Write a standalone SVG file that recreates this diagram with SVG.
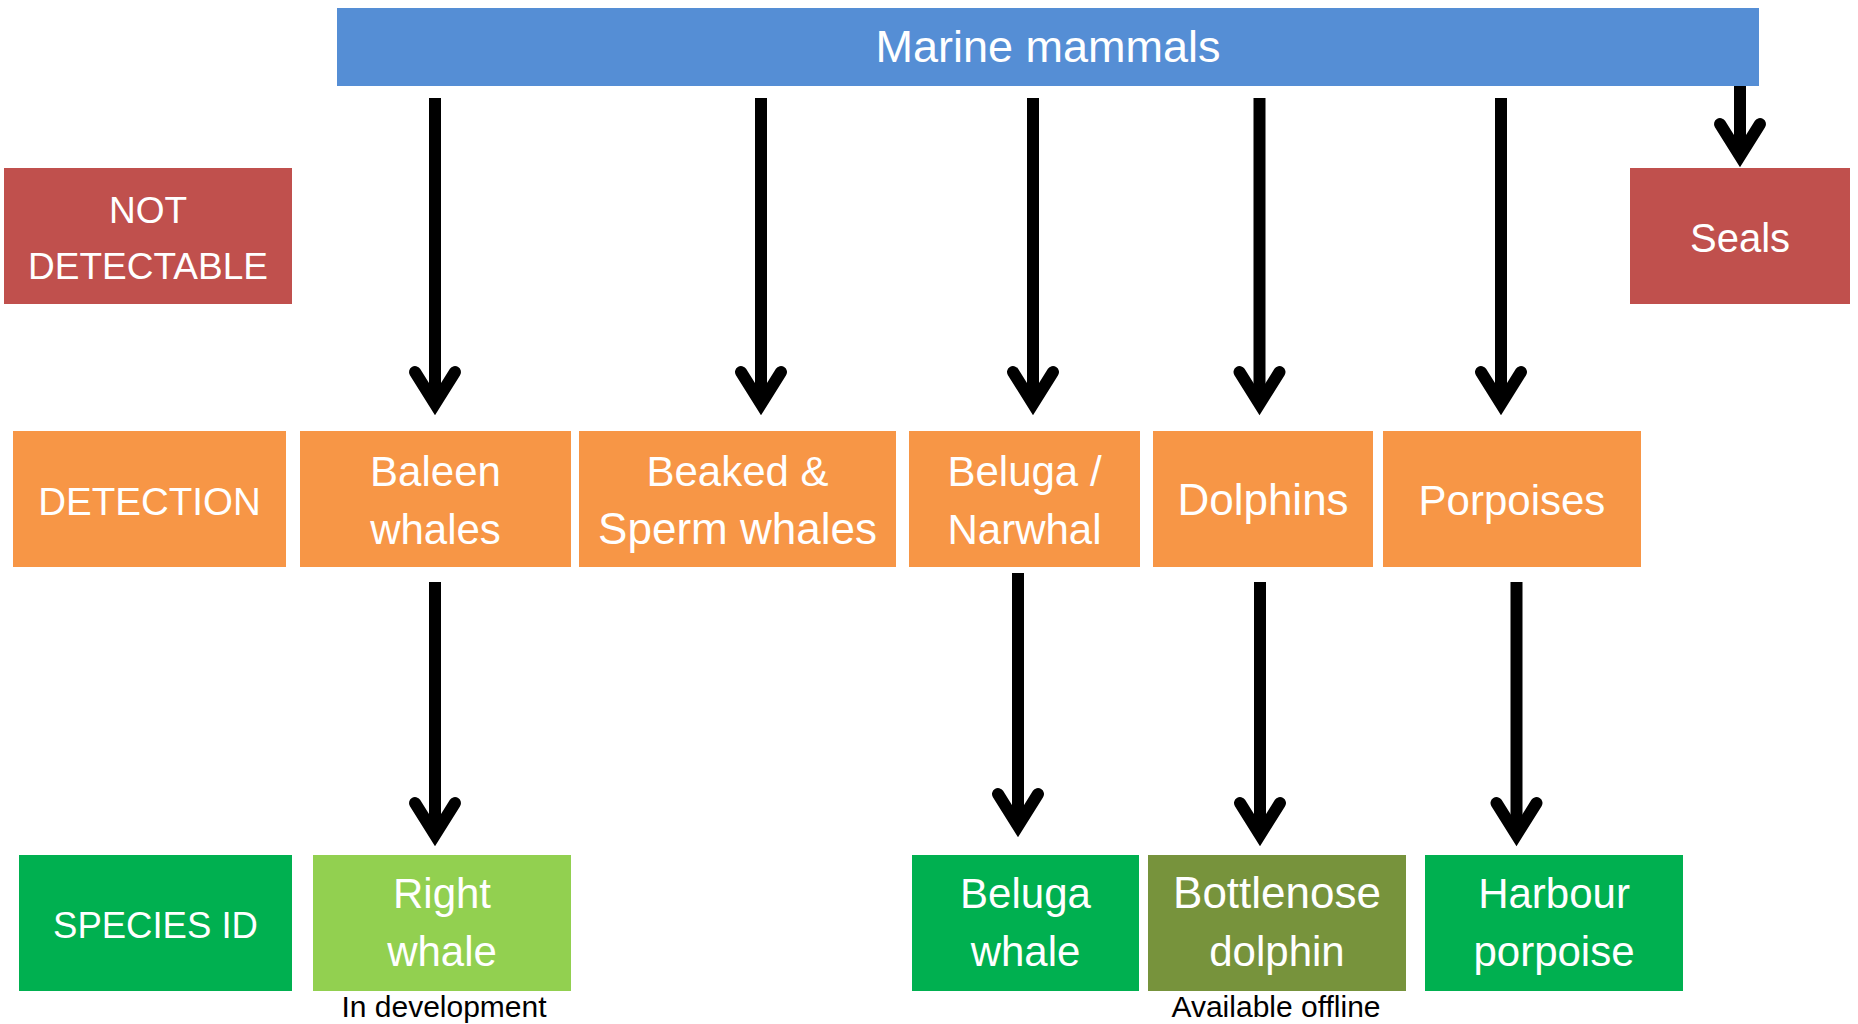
<svg xmlns="http://www.w3.org/2000/svg" width="1858" height="1024" viewBox="0 0 1858 1024">
<defs>
<style>
.lbl{font-family:"Liberation Sans",Arial,sans-serif;font-size:42px;fill:#FFFFFF;text-anchor:middle}
.caps{font-size:37px}
.note{font-family:"Liberation Sans",Arial,sans-serif;font-size:30px;fill:#000000;text-anchor:middle}
.blue{fill:#558ED5}
.red{fill:#C0504D}
.orange{fill:#F79646}
.green{fill:#00B050}
.lgreen{fill:#92D050}
.olive{fill:#77933C}
.arrow{stroke:#000;stroke-width:12;fill:none;marker-end:url(#head)}
</style>
<marker id="head" markerUnits="userSpaceOnUse" orient="auto" refX="0" refY="0" markerWidth="80" markerHeight="80" viewBox="-50 -40 80 80" overflow="visible">
<path d="M -32 -20 L 0 0 L -32 20" fill="none" stroke="#000" stroke-width="12" stroke-linejoin="miter" stroke-linecap="round"/>
</marker>
</defs>
<rect width="1858" height="1024" fill="#FFFFFF"/>

<g id="connectors">
<line class="arrow" x1="435" y1="98" x2="435" y2="404"/>
<line class="arrow" x1="761" y1="98" x2="761" y2="404"/>
<line class="arrow" x1="1033" y1="98" x2="1033" y2="404"/>
<line class="arrow" x1="1259.5" y1="98" x2="1259.5" y2="404"/>
<line class="arrow" x1="1501" y1="98" x2="1501" y2="404"/>
<line class="arrow" x1="1740" y1="86" x2="1740" y2="156"/>
<line class="arrow" x1="435" y1="582" x2="435" y2="835"/>
<line class="arrow" x1="1018" y1="573" x2="1018" y2="826"/>
<line class="arrow" x1="1260" y1="582" x2="1260" y2="835"/>
<line class="arrow" x1="1516.5" y1="582" x2="1516.5" y2="835"/>
</g>

<g id="marine-mammals">
<rect class="blue" x="337" y="8" width="1422" height="78"/>
<text class="lbl" x="1048" y="62" style="font-size:45px">Marine mammals</text>
</g>

<g id="not-detectable">
<rect class="red" x="4" y="168" width="288" height="136"/>
<text class="lbl caps" x="148" y="223">NOT</text>
<text class="lbl caps" x="148" y="279">DETECTABLE</text>
</g>

<g id="seals">
<rect class="red" x="1630" y="168" width="220" height="136"/>
<text class="lbl" x="1740" y="252" style="font-size:40px">Seals</text>
</g>

<g id="detection">
<rect class="orange" x="13" y="431" width="273" height="136"/>
<text class="lbl caps" x="149.5" y="515" style="font-size:38.5px">DETECTION</text>
</g>

<g id="baleen-whales">
<rect class="orange" x="300" y="431" width="271" height="136"/>
<text class="lbl" x="435.5" y="486">Baleen</text>
<text class="lbl" x="435.5" y="544">whales</text>
</g>

<g id="beaked-sperm-whales">
<rect class="orange" x="579" y="431" width="317" height="136"/>
<text class="lbl" x="737.5" y="486">Beaked &amp;</text>
<text class="lbl" x="737.5" y="544" style="font-size:44px">Sperm whales</text>
</g>

<g id="beluga-narwhal">
<rect class="orange" x="909" y="431" width="231" height="136"/>
<text class="lbl" x="1024.5" y="486">Beluga /</text>
<text class="lbl" x="1024.5" y="544">Narwhal</text>
</g>

<g id="dolphins">
<rect class="orange" x="1153" y="431" width="220" height="136"/>
<text class="lbl" x="1263" y="515" style="font-size:44px">Dolphins</text>
</g>

<g id="porpoises">
<rect class="orange" x="1383" y="431" width="258" height="136"/>
<text class="lbl" x="1512" y="515">Porpoises</text>
</g>

<g id="species-id">
<rect class="green" x="19" y="855" width="273" height="136"/>
<text class="lbl caps" x="155.5" y="938" style="font-size:36.5px">SPECIES ID</text>
</g>

<g id="right-whale">
<rect class="lgreen" x="313" y="855" width="258" height="136"/>
<text class="lbl" x="442" y="908">Right</text>
<text class="lbl" x="442" y="966">whale</text>
<text class="note" x="444" y="1017">In development</text>
</g>

<g id="beluga-whale">
<rect class="green" x="912" y="855" width="227" height="136"/>
<text class="lbl" x="1025.5" y="908">Beluga</text>
<text class="lbl" x="1025.5" y="966">whale</text>
</g>

<g id="bottlenose-dolphin">
<rect class="olive" x="1148" y="855" width="258" height="136"/>
<text class="lbl" x="1277" y="908" style="font-size:44px">Bottlenose</text>
<text class="lbl" x="1277" y="966">dolphin</text>
<text class="note" x="1276" y="1017">Available offline</text>
</g>

<g id="harbour-porpoise">
<rect class="green" x="1425" y="855" width="258" height="136"/>
<text class="lbl" x="1554" y="908">Harbour</text>
<text class="lbl" x="1554" y="966">porpoise</text>
</g>
</svg>
